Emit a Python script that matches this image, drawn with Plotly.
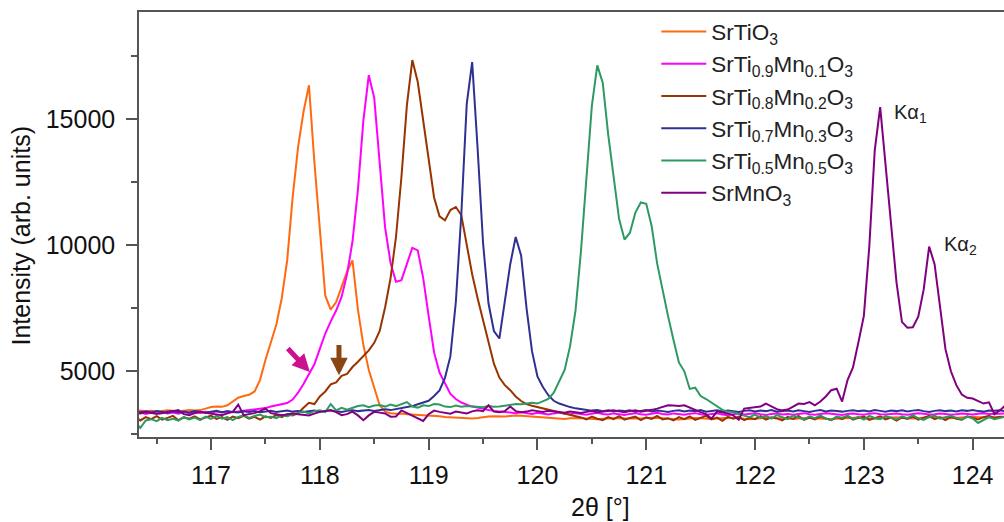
import numpy as np
import plotly.graph_objects as go

# 2theta scan: start and step (degrees), 161 points
SCAN_START = 116.30
SCAN_STEP = 0.05
N_POINTS = 161
two_theta = np.round(SCAN_START + SCAN_STEP * np.arange(N_POINTS), 2)

series_names = [
    "SrTiO<sub>3</sub>",
    "SrTi<sub>0.9</sub>Mn<sub>0.1</sub>O<sub>3</sub>",
    "SrTi<sub>0.8</sub>Mn<sub>0.2</sub>O<sub>3</sub>",
    "SrTi<sub>0.7</sub>Mn<sub>0.3</sub>O<sub>3</sub>",
    "SrTi<sub>0.5</sub>Mn<sub>0.5</sub>O<sub>3</sub>",
    "SrMnO<sub>3</sub>",
]
series_colors = ["#FF6A10", "#FF00FF", "#993300", "#2E3192", "#2E9960", "#800080"]

sto = [
    3420, 3440, 3410, 3430, 3400, 3420, 3450, 3430, 3410, 3440,
    3460, 3440, 3460, 3520, 3580, 3600, 3590, 3650, 3800, 3950,
    4020, 4070, 4200, 4650, 5450, 6150, 6850, 7900, 9400, 11900,
    13900, 15300, 16350, 13300, 10800, 8000, 7450, 7750, 8350, 8950,
    9400, 7450, 6050, 5050, 4350, 3650, 3400, 3340, 3320, 3330,
    3300, 3290, 3280, 3260, 3250, 3230, 3220, 3190, 3180, 3170,
    3150, 3140, 3130, 3150, 3190, 3210, 3220, 3200, 3210, 3230,
    3250, 3240, 3220, 3200, 3190, 3160, 3150, 3120, 3100, 3110,
    3140, 3150, 3150, 3130, 3110, 3100, 3120, 3140, 3160, 3150,
    3130, 3120, 3110, 3130, 3150, 3170, 3160, 3140, 3120, 3100,
    3090, 3110, 3130, 3150, 3140, 3120, 3110, 3130, 3150, 3160,
    3150, 3130, 3110, 3100, 3120, 3140, 3160, 3170, 3150, 3130,
    3120, 3110, 3130, 3150, 3160, 3140, 3120, 3110, 3100, 3120,
    3140, 3150, 3160, 3170, 3150, 3130, 3120, 3140, 3160, 3170,
    3180, 3160, 3140, 3130, 3150, 3170, 3180, 3190, 3170, 3150,
    3140, 3160, 3180, 3190, 3200, 3180, 3170, 3160, 3180, 3190,
    3200,
]

mn01 = [
    3330, 3360, 3310, 3350, 3320, 3370, 3330, 3360, 3320, 3380,
    3340, 3370, 3350, 3390, 3360, 3400, 3370, 3410, 3380, 3420,
    3440, 3460, 3480, 3510, 3540, 3600, 3650, 3700, 3740, 3880,
    4150, 4500, 4870, 5280, 5890, 6500, 6980, 7410, 7950, 8850,
    10150, 12200, 14950, 16750, 15850, 13300, 10700, 9300, 8550, 8620,
    9250, 9900, 9800, 8700, 7200, 5750, 4950, 4500, 4100, 3900,
    3760, 3680, 3600, 3560, 3500, 3460, 3430, 3400, 3380, 3360,
    3340, 3370, 3330, 3310, 3350, 3320, 3290, 3330, 3360, 3320,
    3300, 3340, 3310, 3280, 3320, 3350, 3310, 3290, 3330, 3300,
    3270, 3310, 3340, 3300, 3280, 3320, 3350, 3310, 3290, 3330,
    3300, 3280, 3320, 3340, 3300, 3270, 3310, 3330, 3290, 3260,
    3300, 3330, 3290, 3310, 3340, 3300, 3270, 3310, 3330, 3290,
    3310, 3280, 3320, 3340, 3300, 3280, 3310, 3340, 3320, 3290,
    3270, 3310, 3330, 3300, 3280, 3320, 3340, 3300, 3290, 3310,
    3330, 3300, 3280, 3310, 3340, 3320, 3290, 3300, 3330, 3310,
    3280, 3300, 3330, 3310, 3290, 3320, 3340, 3310, 3300, 3320,
    3330,
]

mn02 = [
    3200, 3050, 3180, 3100, 3220, 3080, 3150, 3230, 3060, 3170,
    3120, 3210, 3090, 3160, 3240, 3110, 3180, 3070, 3200, 3140,
    3230, 3120, 3190, 3080, 3210, 3150, 3260, 3180, 3300, 3250,
    3340, 3550, 3750, 3700, 4000, 4200, 4480, 4560, 4820, 4900,
    5170, 5380, 5600, 5830, 6130, 6600, 7540, 8700, 10330, 12710,
    15550, 17350, 16480, 14950, 13300, 11900, 11150, 10990, 11400, 11520,
    11200, 10000, 8850, 7900, 7020, 6060, 5300, 4750, 4450, 4250,
    4000, 3820, 3700, 3630, 3580, 3520, 3450, 3400, 3350, 3300,
    3250, 3200, 3170, 3090, 3200, 3120, 3060, 3180, 3100, 3220,
    3080, 3150, 3200, 3060, 3170, 3110, 3230, 3090, 3140, 3050,
    3180, 3100, 3210, 3070, 3150, 3230, 3090, 3160, 3040, 3190,
    3120, 3200, 3060, 3150, 3100, 3220, 3080, 3170, 3130, 3050,
    3190, 3110, 3230, 3070, 3160, 3090, 3200, 3140, 3060, 3180,
    3100, 3220, 3080, 3150, 3200, 3070, 3130, 3210, 3090, 3160,
    3040, 3170, 3110, 3200, 3080, 3150, 3230, 3100, 3170, 3060,
    3190, 3120, 3080, 3210, 3140, 3090, 3180, 3230, 3150, 3200,
    3180,
]

mn03 = [
    3400, 3380, 3410, 3370, 3420, 3390, 3360, 3410, 3380, 3400,
    3370, 3420, 3390, 3360, 3400, 3430, 3380, 3410, 3390, 3370,
    3410, 3390, 3420, 3380, 3400, 3430, 3390, 3410, 3440, 3400,
    3420, 3390, 3410, 3440, 3400, 3420, 3450, 3410, 3390, 3430,
    3450, 3420, 3440, 3460, 3430, 3470, 3490, 3460, 3500, 3530,
    3560, 3620, 3690, 3760, 3830, 4020, 4240, 4740, 5600, 7750,
    11200, 15600, 17270, 13850, 10100, 7700, 6600, 6300, 7730, 9250,
    10330, 9600, 7500, 5800, 4800, 4380, 4050, 3830, 3720, 3640,
    3580, 3530, 3500, 3470, 3440, 3460, 3420, 3450, 3410, 3440,
    3420, 3450, 3400, 3430, 3460, 3410, 3440, 3420, 3390, 3430,
    3450, 3410, 3440, 3420, 3460, 3400, 3430, 3450, 3410, 3440,
    3420, 3390, 3430, 3450, 3410, 3440, 3420, 3460, 3400, 3430,
    3440, 3410, 3450, 3420, 3390, 3430, 3460, 3410, 3440, 3420,
    3400, 3430, 3450, 3420, 3440, 3410, 3460, 3430, 3400, 3440,
    3420, 3450, 3410, 3440, 3460, 3420, 3390, 3430, 3450, 3420,
    3440, 3410, 3450, 3430, 3460, 3420, 3400, 3440, 3430, 3450,
    3420,
]

mn05 = [
    3000, 2750, 3050, 3100, 3020, 3150, 3060, 3120, 3040, 3180,
    3090, 3160, 3060, 3200, 3110, 3230, 3120, 3180, 3060, 3190,
    3250, 3150, 3230, 3280, 3180, 3200, 3140, 3260, 3220, 3300,
    3350, 3400, 3330, 3420, 3450, 3380, 3700, 3450, 3550, 3480,
    3560, 3620, 3650, 3580, 3640, 3660, 3600, 3680, 3620, 3700,
    3780, 3600, 3560, 3650, 3620, 3700, 3680, 3600, 3580, 3640,
    3590, 3620, 3600, 3580, 3570, 3620, 3590, 3600, 3640, 3660,
    3700, 3690, 3720, 3750, 3720, 3800, 3900, 4150, 4600, 5050,
    6000, 7420, 9770, 12640, 15530, 17140, 16450, 14400, 12750, 11050,
    10230, 10500, 11300, 11700, 11650, 10760, 9280, 8170, 7200, 6250,
    5350, 5000, 4300, 4350, 4020, 3900, 3750, 3620, 3470, 3400,
    3380, 3300, 3250, 3180, 3280, 3150, 3230, 3120, 3260, 3180,
    3100, 3240, 3170, 3090, 3210, 3140, 3250, 3120, 3070, 3200,
    3160, 3240, 3110, 3190, 3080, 3230, 3150, 3100, 3220, 3170,
    3090, 3210, 3140, 3260, 3130, 3070, 3190, 3240, 3120, 3180,
    3230, 3150, 3080, 3200, 3130, 2950, 3060, 3180, 3100, 3160,
    3200,
]

smo = [
    3350, 3330, 3380, 3360, 3320, 3340, 3400, 3420, 3460, 3300,
    3260, 3340, 3390, 3350, 3330, 3280, 3260, 3330, 3390, 3680,
    3260, 3300, 3340, 3420, 3530, 3340, 3300, 3260, 3290, 3330,
    3300, 3260, 3250, 3320, 3390, 3420, 3450, 3380, 3260, 3300,
    3400, 3250, 3060, 3250, 3390, 3360, 3330, 3200, 3210, 3450,
    3350, 3250, 3150, 3030, 3300, 3440, 3390, 3350, 3320, 3400,
    3360, 3330, 3410, 3450, 3420, 3650, 3400, 3380, 3420, 3600,
    3420, 3380, 3400, 3450, 3420, 3390, 3430, 3410, 3380, 3360,
    3400, 3380, 3350, 3390, 3420, 3380, 3400, 3430, 3450, 3410,
    3380, 3420, 3450, 3400, 3430, 3470, 3520, 3580, 3650, 3640,
    3620, 3650, 3550, 3450, 3380, 3300, 3120, 3400, 3380, 3330,
    3250, 3080, 3520, 3550, 3580, 3600, 3720, 3600, 3500, 3450,
    3480, 3600, 3720, 3700, 3780, 3650, 3800, 4000, 4250, 4310,
    3800, 4650, 5150, 6150, 7200, 9950, 13770, 15480, 13150, 10550,
    8530, 6960, 6730, 6750, 7170, 8250, 9950, 9250, 7600, 5880,
    5000, 4450, 4080, 3950, 3920, 3820, 3720, 3770, 3300, 3450,
    3650,
]

series_values = [sto, mn01, mn02, mn03, mn05, smo]

# axis settings (data units)
x_range = [116.338, 124.288]
y_range = [2393, 19258]
x_ticks = [117, 118, 119, 120, 121, 122, 123, 124]
y_ticks = [5000, 10000, 15000]

# peak labels
peak_labels = ["Kα<sub>1</sub>", "Kα<sub>2</sub>"]
peak_label_x = [123.255, 123.715]
peak_label_y = [15237, 9980]

# arrows marking shoulders: tip and tail positions (data units)
arrow_colors = ["#CC1190", "#8B4513"]
arrow_tip_x = [117.908, 118.176]
arrow_tip_y = [4972, 4841]
arrow_tail_x = [117.693, 118.176]
arrow_tail_y = [5964, 6099]

FONT = "Liberation Sans, Arial, sans-serif"
AXIS_COLOR = "#555555"

fig = go.Figure()
for i, (name, vals, col) in enumerate(zip(series_names, series_values, series_colors)):
    assert len(vals) == N_POINTS, (name, len(vals))
    fig.add_trace(go.Scatter(
        x=two_theta, y=vals, mode="lines", name=name,
        line=dict(color=col, width=2),
    ))

annotations = []
for txt, xx, yy in zip(peak_labels, peak_label_x, peak_label_y):
    annotations.append(dict(x=xx, y=yy, xref="x", yref="y", text=txt,
                            showarrow=False, xanchor="left", yanchor="middle",
                            font=dict(family=FONT, size=20, color="#222222")))
for col, tx, ty, sx, sy in zip(arrow_colors, arrow_tip_x, arrow_tip_y, arrow_tail_x, arrow_tail_y):
    annotations.append(dict(x=tx, y=ty, xref="x", yref="y", ax=sx, ay=sy,
                            axref="x", ayref="y", text="", showarrow=True,
                            arrowhead=2, arrowsize=0.7, arrowwidth=5,
                            arrowcolor=col, standoff=0))
# axis titles
annotations.append(dict(x=0.533, y=-0.165, xref="paper", yref="paper",
                        text="2θ [°]", showarrow=False, xanchor="center", yanchor="middle",
                        font=dict(family=FONT, size=25, color="#111111")))
annotations.append(dict(x=-0.1364, y=0.474, xref="paper", yref="paper",
                        text="Intensity (arb. units)", textangle=-90, showarrow=False,
                        xanchor="center", yanchor="middle",
                        font=dict(family=FONT, size=25, color="#111111")))

fig.update_layout(
    width=1004, height=522,
    margin=dict(l=139, r=0, t=12, b=85),
    paper_bgcolor="white", plot_bgcolor="white",
    font=dict(family=FONT, size=23, color="#111111"),
    showlegend=True,
    legend=dict(x=0.598, y=1.004, xanchor="left", yanchor="top",
                bgcolor="rgba(0,0,0,0)", borderwidth=0,
                font=dict(family=FONT, size=22.5, color="#222222"),
                traceorder="normal", itemwidth=45),
    annotations=annotations,
    xaxis=dict(range=x_range, tickvals=x_ticks, ticks="outside", ticklen=11,
               tickwidth=1.5, tickcolor=AXIS_COLOR, showline=True, linecolor=AXIS_COLOR,
               linewidth=1.5, mirror=True, showgrid=False, zeroline=False,
               tickfont=dict(family=FONT, size=25, color="#111111"),
               ticklabelstandoff=4,
               minor=dict(dtick=0.5, tick0=116.5, ticks="outside", ticklen=5,
                          tickwidth=1.5, tickcolor=AXIS_COLOR, showgrid=False)),
    yaxis=dict(range=y_range, tickvals=y_ticks, ticktext=[str(v) for v in y_ticks],
               tickformat="d", ticks="outside", ticklen=11,
               tickwidth=1.5, tickcolor=AXIS_COLOR, showline=True, linecolor=AXIS_COLOR,
               linewidth=1.5, mirror=False, showgrid=False, zeroline=False,
               tickfont=dict(family=FONT, size=25, color="#111111"),
               ticklabelstandoff=6,
               minor=dict(dtick=2500, tick0=0, ticks="outside", ticklen=6,
                          tickwidth=1.5, tickcolor=AXIS_COLOR, showgrid=False)),
)

fig.write_html("out.html")
